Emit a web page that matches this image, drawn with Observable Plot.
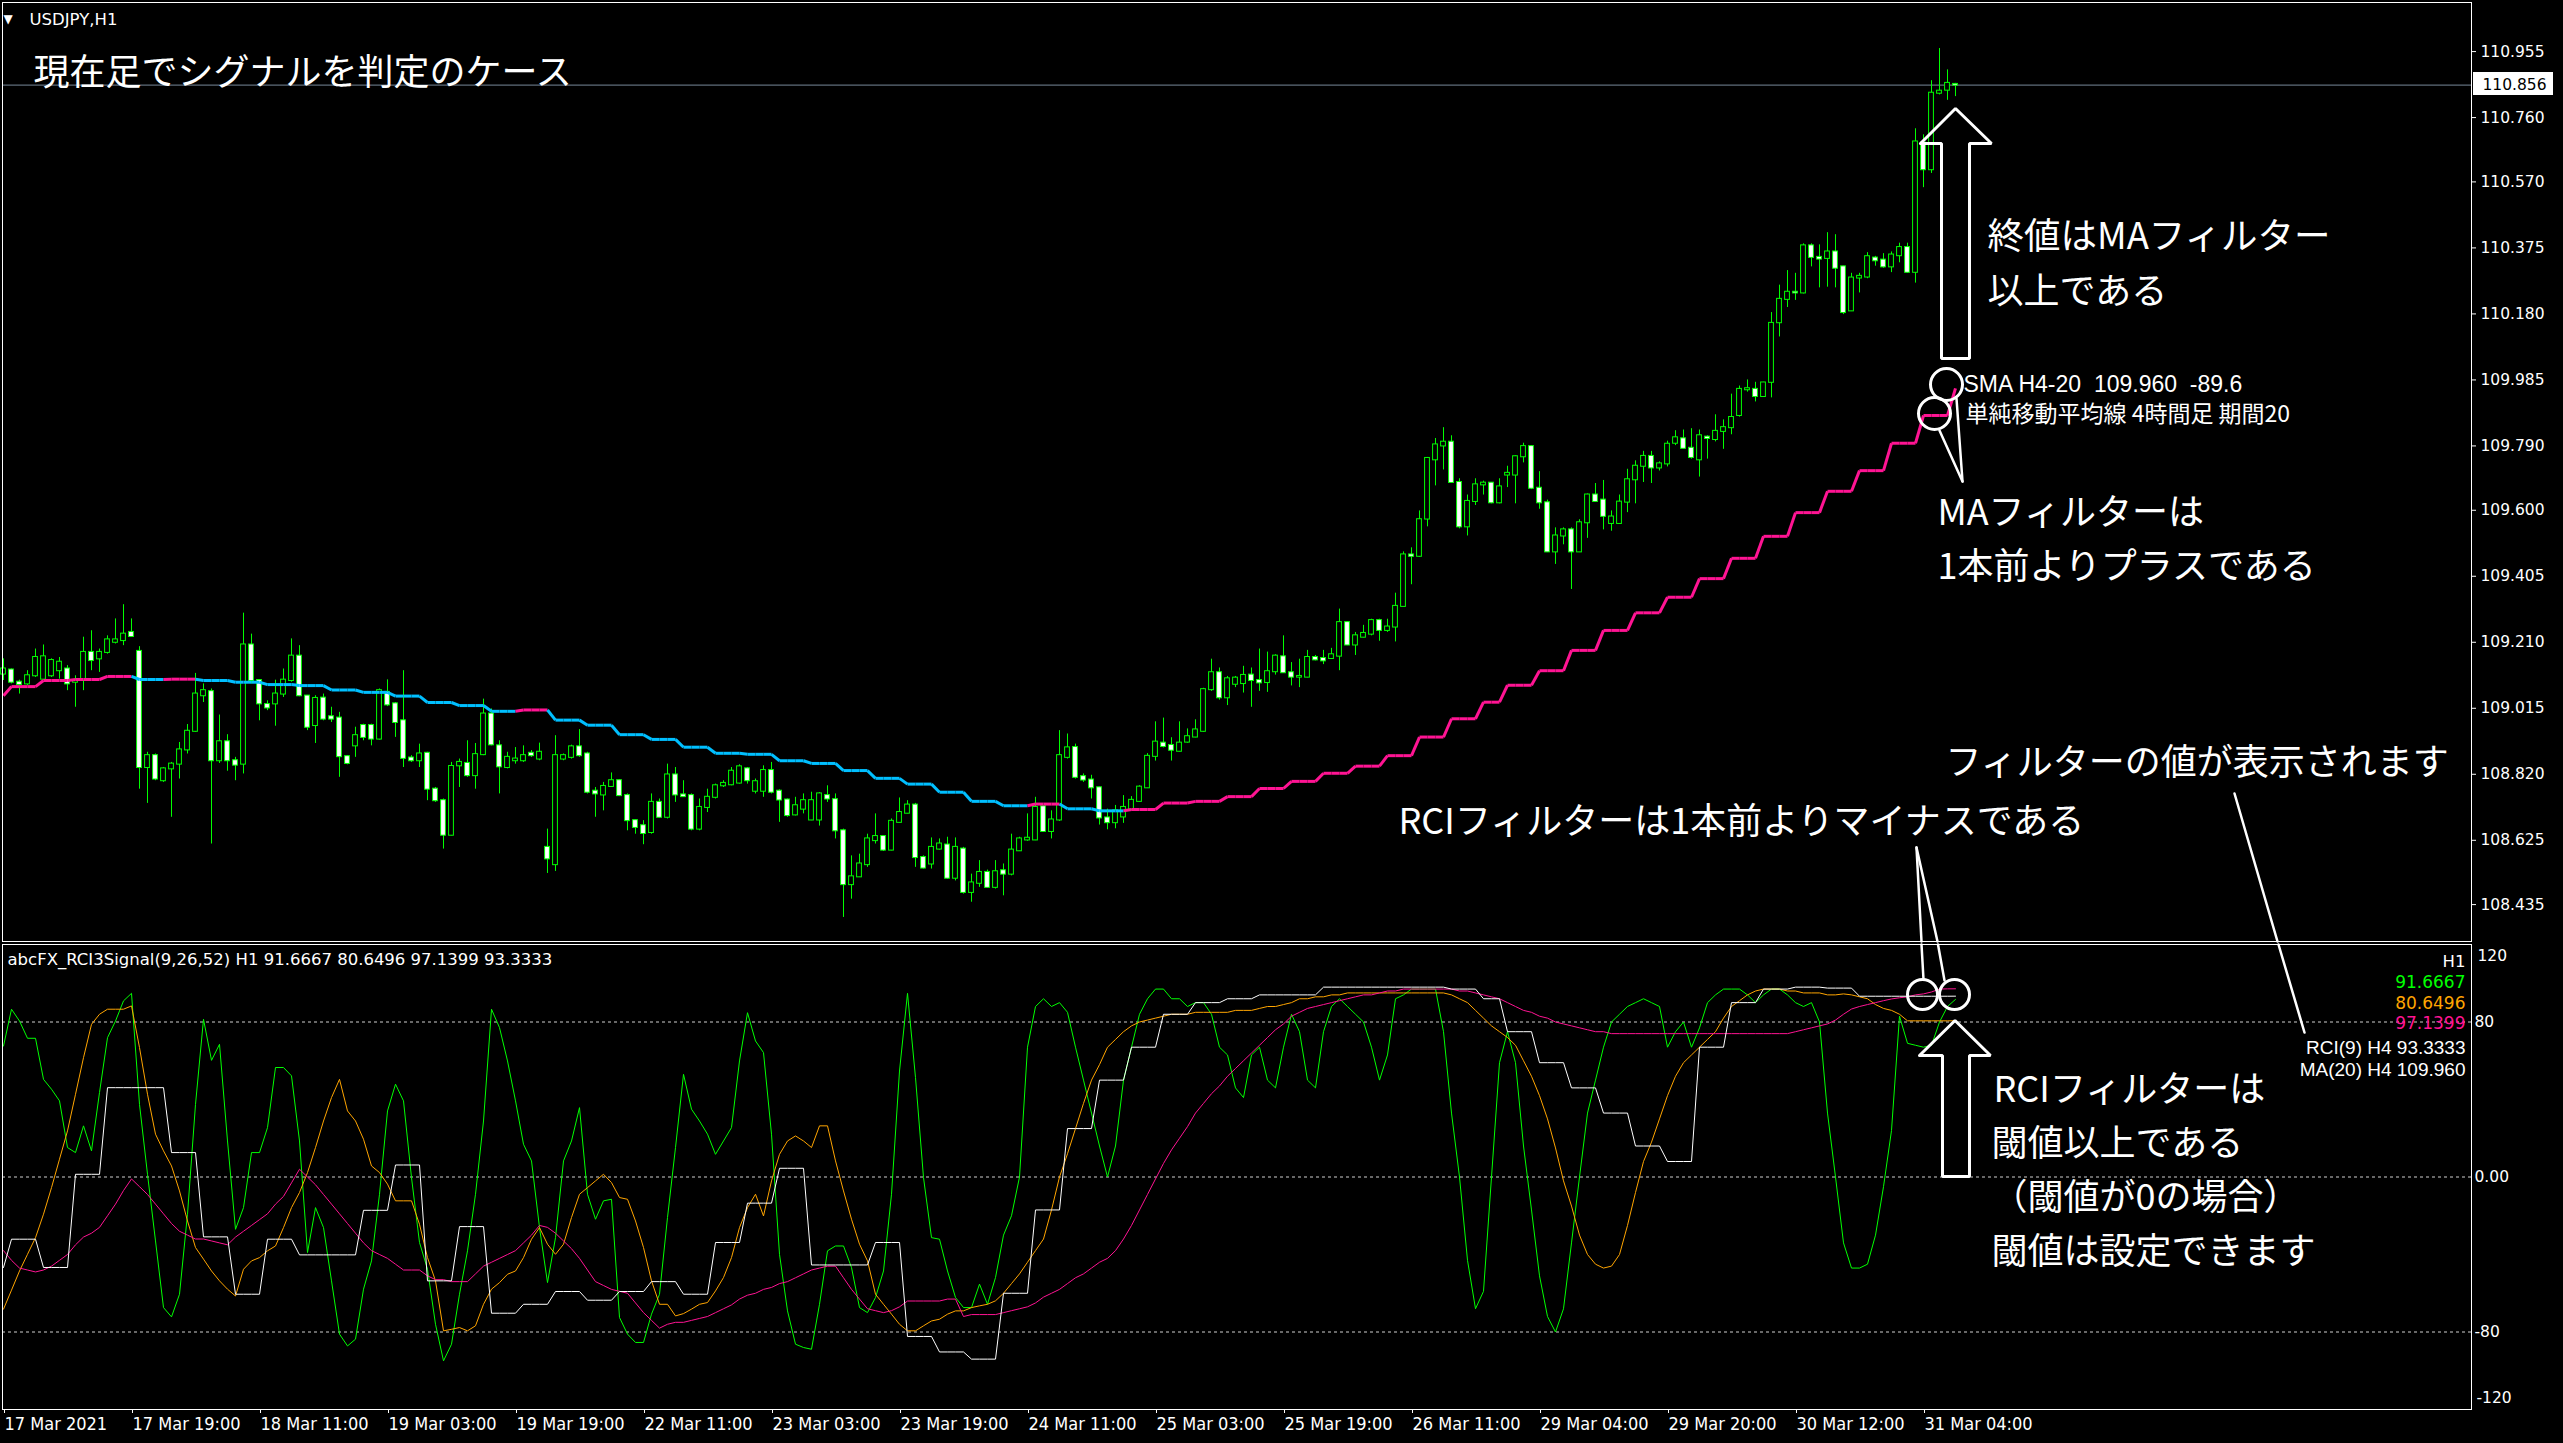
<!DOCTYPE html>
<html><head><meta charset="utf-8">
<script src="https://cdn.jsdelivr.net/npm/d3@7"></script>
<script src="https://cdn.jsdelivr.net/npm/@observablehq/plot@0.6"></script>
<style>
html,body{margin:0;padding:0;background:#000;}
#chart{position:relative;width:2563px;height:1443px;background:#000;overflow:hidden;}
#chart svg{display:block;}
</style></head><body><div id="chart"></div>
<script>
// ---------- DATA (USDJPY H1, bar index 0 = 17 Mar 2021 03:00) ----------
const opens = [109.116,109.128,109.092,109.087,109.111,109.101,109.111,109.126,109.131,109.092,
109.097,109.180,109.161,109.180,109.210,109.215,109.239,109.183,108.840,108.875,
108.801,108.836,108.850,108.892,108.947,109.052,109.064,108.860,108.916,108.860,
108.850,109.202,109.097,109.026,109.028,109.057,109.097,109.169,109.051,108.964,
109.045,108.990,108.986,108.872,108.904,108.964,108.964,108.924,109.062,109.028,
108.978,108.868,108.860,108.882,108.776,108.742,108.640,108.845,108.852,108.816,
108.878,108.998,108.904,108.840,108.860,108.860,108.882,108.865,108.604,108.553,
108.865,108.870,108.901,108.880,108.770,108.759,108.784,108.801,108.757,108.683,
108.668,108.648,108.737,108.693,108.818,108.759,108.757,108.658,108.722,108.752,
108.786,108.789,108.794,108.836,108.770,108.770,108.831,108.770,108.744,108.700,
108.717,108.685,108.685,108.757,108.745,108.653,108.494,108.517,108.553,108.624,
108.636,108.596,108.678,108.705,108.729,108.574,108.555,108.599,108.611,108.513,
108.599,108.471,108.498,108.530,108.486,108.535,108.525,108.594,108.626,108.626,
108.724,108.651,108.685,108.870,108.899,108.813,108.803,108.780,108.691,108.677,
108.694,108.717,108.740,108.780,108.873,108.912,108.905,108.888,108.915,108.930,
108.947,109.070,109.120,109.046,109.086,109.088,109.113,109.097,109.091,109.123,
109.167,109.120,109.107,109.107,109.165,109.162,109.162,109.169,109.268,109.202,
109.225,109.234,109.274,109.245,109.255,109.316,109.468,109.464,109.574,109.749,
109.790,109.801,109.682,109.551,109.626,109.675,109.680,109.622,109.704,109.704,
109.758,109.788,109.665,109.622,109.477,109.524,109.542,109.477,109.563,109.645,
109.630,109.561,109.561,109.624,109.690,109.730,109.759,109.725,109.737,109.798,
109.811,109.783,109.749,109.816,109.809,109.833,109.844,109.880,109.956,109.957,
109.936,109.978,110.154,110.223,110.244,110.242,110.381,110.347,110.344,110.363,
110.319,110.189,110.286,110.289,110.345,110.339,110.319,110.352,110.376,110.303,
110.685,110.606,110.832,110.841,110.858];
const highs = [109.161,109.131,109.098,109.126,109.190,109.202,109.161,109.165,109.141,109.111,
109.225,109.244,109.190,109.229,109.279,109.321,109.279,109.197,108.885,108.880,
108.840,108.855,108.914,108.967,109.118,109.087,109.072,108.995,108.937,108.870,
109.296,109.234,109.099,109.037,109.098,109.131,109.220,109.200,109.052,109.052,
109.057,109.018,109.003,108.875,108.959,108.968,108.968,109.072,109.099,109.032,
109.126,108.875,108.909,108.885,108.781,108.747,108.855,108.865,108.919,108.911,
109.042,109.013,108.919,108.885,108.899,108.904,108.890,108.912,108.658,108.934,
108.880,108.906,108.952,108.885,108.781,108.796,108.824,108.804,108.762,108.685,
108.683,108.762,108.747,108.850,108.840,108.801,108.762,108.747,108.776,108.791,
108.801,108.840,108.848,108.840,108.806,108.845,108.855,108.774,108.747,108.752,
108.762,108.767,108.766,108.786,108.762,108.658,108.579,108.584,108.643,108.703,
108.639,108.688,108.750,108.742,108.734,108.579,108.632,108.629,108.634,108.632,
108.604,108.525,108.565,108.537,108.565,108.555,108.643,108.634,108.703,108.752,
108.727,108.712,108.949,108.939,108.909,108.821,108.817,108.782,108.717,108.728,
108.757,108.754,108.786,108.881,108.975,108.986,108.928,108.975,108.954,108.981,
109.074,109.160,109.134,109.109,109.109,109.139,109.134,109.190,109.181,109.173,
109.229,109.150,109.160,109.186,109.171,109.186,109.192,109.308,109.271,109.239,
109.260,109.278,109.278,109.278,109.355,109.477,109.489,109.598,109.756,109.812,
109.844,109.820,109.693,109.645,109.693,109.686,109.682,109.693,109.730,109.761,
109.798,109.791,109.714,109.630,109.548,109.548,109.548,109.572,109.648,109.679,
109.688,109.598,109.645,109.721,109.746,109.774,109.774,109.743,109.804,109.835,
109.837,109.841,109.837,109.820,109.882,109.867,109.943,109.967,109.985,109.978,
109.978,110.184,110.265,110.308,110.300,110.387,110.387,110.384,110.420,110.414,
110.321,110.300,110.300,110.361,110.350,110.358,110.363,110.389,110.389,110.727,
110.709,110.869,110.964,110.901,110.861];
const lows = [109.097,109.087,109.057,109.082,109.106,109.097,109.106,109.101,109.067,109.018,
109.067,109.126,109.121,109.175,109.205,109.200,109.225,108.776,108.734,108.801,
108.796,108.693,108.806,108.880,108.944,109.032,108.614,108.852,108.829,108.801,
108.821,109.087,108.978,109.008,108.962,109.047,109.092,109.049,108.949,108.911,
108.978,108.973,108.811,108.848,108.870,108.919,108.904,108.921,109.020,108.929,
108.840,108.855,108.840,108.742,108.737,108.599,108.638,108.781,108.811,108.776,
108.875,108.904,108.762,108.836,108.850,108.855,108.870,108.860,108.527,108.533,
108.860,108.865,108.870,108.762,108.693,108.712,108.781,108.754,108.653,108.643,
108.612,108.643,108.691,108.688,108.737,108.752,108.653,108.653,108.707,108.747,
108.781,108.786,108.791,108.791,108.762,108.752,108.762,108.678,108.693,108.697,
108.703,108.683,108.667,108.737,108.629,108.397,108.451,108.515,108.545,108.614,
108.592,108.594,108.676,108.703,108.545,108.540,108.540,108.596,108.510,108.505,
108.466,108.442,108.486,108.484,108.481,108.461,108.520,108.592,108.622,108.624,
108.648,108.629,108.681,108.865,108.806,108.796,108.747,108.670,108.656,108.659,
108.675,108.712,108.738,108.778,108.859,108.898,108.859,108.886,108.912,108.928,
108.944,109.065,109.039,109.023,109.076,109.060,109.018,109.065,109.062,109.113,
109.118,109.081,109.076,109.105,109.155,109.144,109.160,109.126,109.200,109.171,
109.223,109.229,109.213,109.239,109.211,109.315,109.380,109.461,109.551,109.672,
109.719,109.679,109.545,109.524,109.614,109.645,109.619,109.619,109.667,109.619,
109.740,109.661,109.603,109.475,109.440,109.498,109.366,109.475,109.517,109.624,
109.542,109.538,109.559,109.593,109.619,109.682,109.679,109.716,109.728,109.791,
109.781,109.751,109.698,109.751,109.802,109.780,109.823,109.875,109.949,109.920,
109.934,109.932,110.112,110.199,110.220,110.239,110.319,110.257,110.259,110.257,
110.178,110.187,110.242,110.284,110.321,110.315,110.302,110.331,110.300,110.271,
110.553,110.595,110.827,110.811,110.822];
const closes = [109.131,109.092,109.085,109.111,109.165,109.167,109.156,109.151,109.087,109.097,
109.180,109.156,109.180,109.217,109.217,109.234,109.227,108.840,108.875,108.806,
108.836,108.850,108.892,108.947,109.057,109.067,108.860,108.916,108.860,108.847,
109.202,109.097,109.028,109.016,109.057,109.098,109.169,109.052,108.959,109.044,
108.983,108.983,108.872,108.852,108.934,108.929,108.924,109.067,109.025,108.973,
108.867,108.860,108.880,108.776,108.742,108.640,108.843,108.855,108.816,108.878,
108.998,108.907,108.842,108.870,108.865,108.875,108.875,108.885,108.570,108.875,
108.875,108.901,108.875,108.767,108.762,108.784,108.801,108.757,108.683,108.663,
108.645,108.737,108.693,108.818,108.759,108.754,108.658,108.722,108.752,108.786,
108.793,108.829,108.842,108.801,108.798,108.831,108.767,108.744,108.698,108.727,
108.742,108.742,108.762,108.747,108.653,108.494,108.517,108.555,108.629,108.636,
108.596,108.681,108.707,108.729,108.574,108.543,108.604,108.614,108.513,108.604,
108.471,108.499,108.530,108.486,108.532,108.525,108.596,108.629,108.631,108.722,
108.651,108.685,108.875,108.898,108.811,108.803,108.780,108.691,108.677,108.712,
108.722,108.743,108.782,108.873,108.915,108.902,108.891,108.912,108.931,108.951,
109.070,109.120,109.046,109.102,109.104,109.112,109.097,109.090,109.123,109.169,
109.120,109.107,109.109,109.165,109.158,109.155,109.173,109.268,109.202,109.229,
109.236,109.274,109.245,109.255,109.316,109.468,109.464,109.572,109.753,109.793,
109.801,109.682,109.551,109.626,109.675,109.680,109.622,109.669,109.709,109.758,
109.788,109.665,109.622,109.477,109.524,109.542,109.477,109.563,109.645,109.626,
109.582,109.580,109.624,109.690,109.730,109.759,109.725,109.737,109.795,109.814,
109.783,109.756,109.820,109.812,109.833,109.844,109.874,109.957,109.959,109.936,
109.976,110.152,110.223,110.244,110.242,110.381,110.347,110.342,110.363,110.315,
110.184,110.286,110.291,110.349,110.337,110.319,110.354,110.376,110.303,110.688,
110.606,110.832,110.838,110.861,110.856];

// H4 blocks (first H1 bar of each H4 bar) and their multi-timeframe values
const h4Start = [0,1,5,9,13,17,21,25,29,33,37,41,45,49,53,57,61,65,69,73,77,81,85,89,93,97,101,105,109,113,117,121,
125,129,133,137,141,145,149,153,157,161,165,169,173,177,181,185,188,192,196,200,204,208,212,216,220,224,228,232,236,240,244];
const maH4 = [109.052,109.079,109.097,109.100,109.109,109.100,109.101,109.097,109.092,109.085,
109.082,109.069,109.062,109.051,109.032,109.023,109.006,109.010,108.980,108.965,
108.937,108.923,108.900,108.882,108.879,108.860,108.852,108.831,108.808,108.791,
108.767,108.740,108.727,108.732,108.718,108.712,108.716,108.735,108.740,108.754,
108.778,108.799,108.823,108.844,108.875,108.930,108.984,109.033,109.083,109.126,
109.186,109.245,109.297,109.343,109.398,109.458,109.523,109.593,109.656,109.717,
109.798,109.880,109.960];
const rciH4 = [-46.7,-32.1,-46.7,1.4,46.1,46.1,12.6,-30.9,-60.5,-32.1,
-40.2,-40.2,-17.2,6.2,-53.6,-25.6,-70.3,-65.7,-59.1,-63.6,
-59.1,-54.0,-60.5,-33.8,-13.5,4.5,-45.4,-45.4,-33.8,-82.3,
-90.3,-94.0,-60,-17,25,50,67,84,90,92,
94,94,98,98,98,98,97,92,75,59,
46,33,16,8,67,90,97,98,97.5,93.3,
93.3,93.3,93.3333];

const rci9 = [67.6,86.6,80.5,71.6,71.6,50.4,45.3,39.3,15.2,12.6,
26.4,13.5,43.6,71.9,80.5,90.9,94.8,37.5,1.4,-33.0,
-67.4,-72.2,-60.5,-19.2,37.5,81.4,60.2,68.5,18.6,-27.0,
-15.8,12.6,12.6,25.5,56.5,56.5,52.2,18.6,-39.0,-15.8,
-26.1,-53.6,-81.1,-87.2,-83.7,-57.9,-43.3,-8.9,34.1,47.9,
39.3,-0.3,-33.8,-47.6,-76.0,-94.9,-86.3,-60.5,-38.1,-8.9,
28.9,86.6,77.1,59.9,39.3,16.9,8.3,-26.1,-54.5,-31.3,
8.3,18.6,35.8,-8.9,-21.8,-12.3,-11.5,-72.5,-81.1,-85.4,
-85.4,-70.8,-60.5,-20.9,15.2,53.0,35.0,28.9,22.1,11.7,
18.6,25.5,59.9,84.8,70.2,64.2,22.1,-39.9,-69.1,-86.3,
-88.0,-88.9,-65.7,-38.1,-35.6,-35.6,-46.7,-67.4,-70.0,-62.2,
-48.5,-8.9,54.7,94.8,51.3,-0.3,-31.3,-32.1,-48.5,-62.2,
-67.4,-67.4,-55.3,-65.7,-51.9,-30,-20,0,67,88,
92,88,90,85,67,50,33,16,0,16,
50,67,84,92,97,97,92,92,88,90,
90,84,67,63,46,41,63,67,50,46,
67,84,75,50,46,75,88,92,88,84,
80,67,50,63,92,94,97,97,97,97,
75,33,0,-43,-68,-59,0,59,75,59,
16,-17,-51,-72,-80,-68,-34,0,33,50,
67,80,84,88,90,92,90,88,67,75,
80,67,77,90,94,97,97,97,94,90,
94,97,97,94,90,88,90,80,33,0,
-34,-47,-47,-45,-30,-5,24,83,69,68,
67,68,80,88,91.6667];
const rci26 = [-68.2,-58.4,-48.5,-39.9,-31.3,-19.2,-5.5,9.2,23.8,42.7,
61.6,78.8,84.0,86.6,86.6,86.6,88.3,66.8,42.7,22.1,
13.5,5.7,-7.2,-22.7,-36.4,-42.4,-48.5,-53.6,-57.9,-61.4,
-47.6,-43.3,-41.6,-38.1,-35.6,-26.1,-15.8,-8.0,2.3,15.2,
28.9,41.0,50.4,34.1,28.9,19.5,5.7,2.3,-3.7,-12.3,
-12.3,-12.3,-24.4,-41.6,-53.6,-79.4,-78.6,-77.7,-79.4,-76.8,
-65.7,-57.9,-54.5,-50.2,-48.5,-41.6,-32.1,-26.1,-34.7,-39.9,
-34.7,-20.9,-8.9,-5.5,-2.0,1.4,-2.9,-10.6,-11.5,-22.7,
-36.4,-53.6,-65.7,-65.7,-71.7,-70.5,-68.2,-65.7,-64.8,-58.8,
-51.9,-41.6,-26.1,-15.8,-8.9,-20.1,-2.0,11.7,18.6,21.2,
18.6,15.2,26.4,26.4,8.3,-7.2,-21.8,-34.7,-43.3,-60.5,
-65.7,-70.8,-76.0,-79.4,-79.4,-76.8,-74.3,-73.4,-70.8,-69.1,
-69.1,-67.4,-66.5,-65.7,-63.9,-60,-55,-50,-44,-38,
-32,-17,0,12,25,38,50,58,67,71,
75,78,80,81,82,83,84,84,84,85,
85,85,85,85,86,86,86,87,88,88,
89,90,92,92,93,93,94,94,95,95,
95,95,95,95,95,95,95,95,95,95,
95,94,92,90,86,82,78,75,72,68,
60,52,42,30,15,-2,-15,-30,-40,-45,
-47,-46,-40,-25,-8,8,18,30,42,52,
59,63,67,71,75,82,88,91,94,96,
97,97,97,96,96,95,95,95,94,94,
94.5,94,93,92,89,87,86,84,80.6,80.6,
80.6,80.6,80.6,80.6,80.6496];
const rci52 = [-38,-43,-47,-48,-49,-48,-46,-43,-40,-35,
-31,-29,-26,-20,-14,-7,-1,-5,-9,-14,
-19,-24,-28,-30,-32,-32,-33,-34,-35,-31,
-28,-25,-22,-19,-14,-10,-3,4,0,-4,
-9,-14,-19,-24,-29,-34,-38,-40,-42,-45,
-48,-48,-48,-51,-53,-53,-54,-54,-54,-50,
-46,-44,-42,-40,-38,-34,-30,-25,-26,-29,
-33,-37,-42,-48,-54,-56,-58,-59,-60,-65,
-70,-74,-78,-76,-75,-75,-74,-73,-72,-70,
-68,-66,-63,-61,-60,-58,-57,-55,-54,-52,
-50,-48,-47,-46,-46,-52,-58,-63,-68,-69,
-70,-69,-67,-64,-64,-64,-64,-64,-63,-63,
-72,-71,-71,-71,-71,-70,-69,-68,-67,-65,
-62,-60,-58,-55,-52,-50,-47,-44,-42,-38,
-32,-25,-17,-9,-1,7,14,20,26,33,
38,43,47,52,56,60,64,68,72,76,
79,83,85,87,88,89,90,91,92,93,
94,94,95,96,96,97,97,97,97,97,
97,97,96,96,95,94,93,92,90,88,
86,85,83,82,80,79,78,77,76,75,
75,74,74,74,74,74,74,74,74,74,
74,74,74,74,74,74,74,74,74,74,
74,74,74,74,75,76,77,78,79,81,
84,86.7,88,89,90,91,91.9,92.5,93,94,
94.5,95.5,97,97.1,97.1399];

const timeTickBars = [0,16,32,48,64,80,96,112,128,144,160,176,192,208,224,240];
const timeTickLabels = ["17 Mar 2021","17 Mar 19:00","18 Mar 11:00","19 Mar 03:00","19 Mar 19:00","22 Mar 11:00",
"23 Mar 03:00","23 Mar 19:00","24 Mar 11:00","25 Mar 03:00","25 Mar 19:00","26 Mar 11:00","29 Mar 04:00",
"29 Mar 20:00","30 Mar 12:00","31 Mar 04:00"];
const priceTicks = [110.955,110.760,110.570,110.375,110.180,109.985,109.790,109.600,109.405,109.210,109.015,108.820,108.625,108.435];
const rciLevels = [80,0,-80];
const currentPrice = 110.856;
const legendValues = {rci9: "91.6667", rci26: "80.6496", rci52: "97.1399", rciH4: "93.3333", ma: "109.960"};

// ---------- LAYOUT ----------
const W = 2563, mainH = 943, subH = 500;
const xDomain = [-0.125, 308.5];
const priceDomain = [108.326, 111.100];
const rciDomain = [-120, 120];
const mL = 2, mR = 92;
const plotRight = W - mR;           // 2471
const px2bar = x => xDomain[0] + (x - mL) * (xDomain[1] - xDomain[0]) / (plotRight - mL);
const px2price = y => priceDomain[1] - (y - 2) * (priceDomain[1] - priceDomain[0]) / (941 - 2);
const px2rci = y => rciDomain[1] - (y - 944) * (rciDomain[1] - rciDomain[0]) / (1409 - 944);

const C = {lime:"#00ff00", blue:"#00bfff", pink:"#ff1493", orange:"#ffa500", white:"#ffffff", slate:"#778899", dot:"#cfcfcf"};
const JP = "Noto Sans CJK JP";
const UI = "DejaVu Sans";
const UIC = "DejaVu Sans Condensed, DejaVu Sans";

// ---------- DERIVED TABLES ----------
const N = closes.length;
const idx = d3.range(N);
const blockIndex = idx.map(i => d3.bisectRight(h4Start, i) - 1);
const maBar = idx.map(i => maH4[blockIndex[i]]);
const rciH4Bar = idx.map(i => rciH4[blockIndex[i]]);
const blockUp = [];
maH4.forEach((v, k) => { blockUp[k] = k === 0 ? true : v > maH4[k-1] ? true : v < maH4[k-1] ? false : blockUp[k-1]; });
const maSegs = idx.slice(1).map(i => ({x1: i-1, y1: maBar[i-1], x2: i, y2: maBar[i], up: blockUp[blockIndex[i]]}));
const candles = idx.map(i => ({i, o: opens[i], h: highs[i], l: lows[i], c: closes[i]}));

// ---------- ANNOTATION HELPERS (pixel positions of the overlay) ----------
function txt(str, x, y, conv, o = {}) {
  return Plot.text([str], {x: px2bar(x), y: conv(y), text: d => d, textAnchor: o.anchor || "start",
    lineAnchor: "middle", fill: o.fill || C.white, fontSize: o.size || 36,
    fontFamily: o.font || JP, fontWeight: o.weight || "normal"});
}
function poly(pts, conv, w = 3) {
  return Plot.line(pts, {x: d => px2bar(d[0]), y: d => conv(d[1]), stroke: C.white, strokeWidth: w, strokeLinejoin: "miter"});
}
function ring(x, y, r, conv) {
  return Plot.dot([0], {x: px2bar(x), y: conv(y), r, stroke: C.white, strokeWidth: 3, fill: "none"});
}

// ---------- MAIN PRICE PANEL ----------
const mainPlot = Plot.plot({
  width: W, height: mainH,
  marginTop: 2, marginRight: mR, marginBottom: 2, marginLeft: mL,
  x: {domain: xDomain, axis: null},
  y: {domain: priceDomain},
  color: {type: "identity"},
  style: {background: "#000", color: "#fff", fontFamily: UI, fontSize: "15px", overflow: "visible"},
  marks: [
    Plot.ruleY([currentPrice], {stroke: C.slate, strokeWidth: 1}),
    Plot.ruleX(candles, {x: "i", y1: "l", y2: "h", stroke: C.lime, strokeWidth: 1}),
    Plot.rect(candles, {x1: d => d.i - 0.3, x2: d => d.i + 0.3, y1: d => Math.min(d.o, d.c), y2: d => Math.max(d.o, d.c),
      fill: d => d.c < d.o ? "#ffffff" : "#000000", stroke: C.lime, strokeWidth: 1, insetTop: -0.5, insetBottom: -0.5}),
    Plot.link(maSegs, {x1: "x1", y1: "y1", x2: "x2", y2: "y2", stroke: d => d.up ? C.pink : C.blue, strokeWidth: 3}),
    Plot.frame({stroke: C.white, strokeWidth: 1}),
    Plot.axisY(priceTicks, {anchor: "right", tickSize: 4, tickPadding: 5, tickFormat: d => d.toFixed(3), fontSize: 15.5, label: null}),
    Plot.rect([0], {x1: px2bar(2473), x2: px2bar(2553), y1: px2price(95), y2: px2price(72), fill: "#fff"}),
    Plot.text([currentPrice], {x: px2bar(2482), y: currentPrice, text: d => d.toFixed(3), fill: "#000", textAnchor: "start", fontSize: 15.5, fontFamily: UI}),
    // header
    txt("▼", 3, 19, px2price, {size: 12, font: UI}),
    txt("USDJPY,H1", 29, 19, px2price, {size: 16.5, font: UI}),
    txt("現在足でシグナルを判定のケース", 33, 73, px2price, {size: 36}),
    // MA filter annotations
    poly([[1920,143],[1955,108],[1991,143],[1969,143],[1969,358],[1941,358],[1941,143],[1920,143]], px2price),
    txt("終値はMAフィルター", 1987, 237, px2price, {size: 36.5}),
    txt("以上である", 1987, 292, px2price),
    ring(1946, 384, 16, px2price),
    ring(1934, 413, 16, px2price),
    txt("SMA H4-20\u00a0\u00a0" + legendValues.ma + "\u00a0\u00a0-89.6", 1963, 384, px2price, {size: 23, font: "Liberation Sans"}),
    txt("単純移動平均線 4時間足 期間20", 1965, 414, px2price, {size: 23}),
    poly([[1939,430],[1962,481]], px2price, 2.5),
    poly([[1956,398],[1962,481]], px2price, 2.5),
    txt("MAフィルターは", 1937, 513, px2price),
    txt("1本前よりプラスである", 1937, 567, px2price),
    txt("フィルターの値が表示されます", 1945, 763, px2price),
    poly([[2234,793],[2277,941]], px2price, 2.5),
    txt("RCIフィルターは1本前よりマイナスである", 1398, 822, px2price),
    poly([[1916,847],[1921,941]], px2price, 2.5),
    poly([[1916,847],[1937,941]], px2price, 2.5)
  ]
});

// ---------- RCI SUB PANEL ----------
const subPlot = Plot.plot({
  width: W, height: subH,
  marginTop: 1, marginRight: mR, marginBottom: 34, marginLeft: mL,
  x: {domain: xDomain},
  y: {domain: rciDomain},
  color: {type: "identity"},
  style: {background: "#000", color: "#fff", fontFamily: UI, fontSize: "15px", overflow: "visible"},
  marks: [
    Plot.ruleY(rciLevels, {stroke: C.dot, strokeWidth: 1, strokeDasharray: "3,3"}),
    Plot.line(rci9, {x: (d, i) => i, y: d => d, stroke: C.lime, strokeWidth: 1}),
    Plot.line(rci26, {x: (d, i) => i, y: d => d, stroke: C.orange, strokeWidth: 1}),
    Plot.line(rci52, {x: (d, i) => i, y: d => d, stroke: C.pink, strokeWidth: 1}),
    Plot.line(rciH4Bar, {x: (d, i) => i, y: d => d, stroke: C.white, strokeWidth: 1}),
    Plot.frame({stroke: C.white, strokeWidth: 1}),
    Plot.axisY(rciLevels, {anchor: "right", tickSize: 0, tickPadding: 3, tickFormat: d => d === 0 ? "0.00" : String(d), fontSize: 15.5, label: null}),
    txt("120", 2477, 956, px2rci, {size: 15.5, font: UI}),
    txt("-120", 2476, 1398, px2rci, {size: 15.5, font: UI}),
    Plot.axisX(timeTickBars, {anchor: "bottom", tickSize: 4, tickPadding: 4, textAnchor: "start", dx: 1,
      tickFormat: d => timeTickLabels[timeTickBars.indexOf(d)], fontFamily: UIC, fontSize: 18, label: null}),
    txt("abcFX_RCI3Signal(9,26,52) H1 " + [legendValues.rci9, legendValues.rci26, legendValues.rci52, legendValues.rciH4].join(" "), 7, 959, px2rci, {size: 16.5, font: UI}),
    txt("H1", 2465, 961, px2rci, {size: 16.5, font: UI, anchor: "end"}),
    txt(legendValues.rci9, 2465, 982, px2rci, {size: 17, font: UI, anchor: "end", fill: C.lime}),
    txt(legendValues.rci26, 2465, 1003, px2rci, {size: 17, font: UI, anchor: "end", fill: C.orange}),
    txt(legendValues.rci52, 2465, 1023, px2rci, {size: 17, font: UI, anchor: "end", fill: C.pink}),
    txt("RCI(9) H4 " + legendValues.rciH4, 2465, 1047, px2rci, {size: 19, font: "Liberation Sans", anchor: "end"}),
    txt("MA(20) H4 " + legendValues.ma, 2465, 1069, px2rci, {size: 19, font: "Liberation Sans", anchor: "end"}),
    // annotations
    poly([[2278,944],[2304,1032]], px2rci, 2.5),
    poly([[1921,944],[1923,979]], px2rci, 2.5),
    poly([[1937.5,944],[1944,980]], px2rci, 2.5),
    ring(1922, 994, 15, px2rci),
    ring(1954, 994, 15, px2rci),
    poly([[1919,1055],[1954.5,1020],[1990,1055],[1969,1055],[1969,1176],[1942,1176],[1942,1055],[1919,1055]], px2rci),
    txt("RCIフィルターは", 1993, 1090, px2rci),
    txt("閾値以上である", 1991, 1144, px2rci),
    txt("（閾値が0の場合）", 1991, 1198, px2rci),
    txt("閾値は設定できます", 1991, 1252, px2rci)
  ]
});

const host = document.getElementById("chart");
host.appendChild(mainPlot);
host.appendChild(subPlot);
</script>
</body></html>
